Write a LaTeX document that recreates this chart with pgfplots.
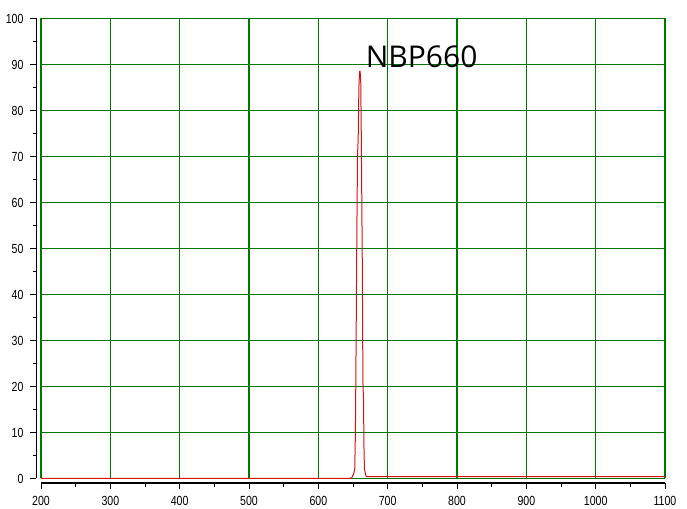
\documentclass[border=0pt]{standalone}
\usepackage{fontspec}
\setmainfont{Liberation Sans}
\newfontfamily\tickfont[FakeStretch=0.8]{Liberation Sans}
\newfontfamily\labelfont{Open Sans}
\usepackage{pgfplots}
\pgfplotsset{compat=1.18}
\definecolor{gridgreen}{RGB}{0,120,0}
\definecolor{curvered}{RGB}{210,20,20}

\begin{document}
\begin{tikzpicture}
\useasboundingbox (-20.5pt,-15.25pt) rectangle (323pt,239.25pt);
\begin{axis}[
  scale only axis, width=312pt, height=230pt,
  xmin=200, xmax=1100, ymin=0, ymax=100,
  axis lines=left, axis line style={-, black, line width=0.7pt},
  axis x line shift=2.25pt, axis y line shift=2.25pt,
  xtick={200,300,...,1100}, ytick={0,10,...,100},
  minor x tick num=1, minor y tick num=1,
  tick align=outside, major tick length=3pt, minor tick length=1.8pt,
  tick style={black, line width=0.4pt},
  grid=major, major grid style={gridgreen, line width=0.6pt},
  ticklabel style={font=\tickfont\fontsize{6.6}{7}\selectfont},
  /pgf/number format/assume math mode=true,
  /pgf/number format/set thousands separator={},
  clip=false,
]
% transmission curve of the NBP660 filter
\addplot[curvered, line width=0.5pt] coordinates {
  (200,0) (640,0) (648,0.1) (651,1) (652.5,2) (653.5,10) (654.5,30)
  (655.5,52) (656.5,70) (657.5,74) (658.5,85) (659.5,88.5) (660.3,88.5)
  (661.2,86) (662,74) (663.5,45) (664.3,21) (665.2,17) (665.8,7)
  (666.5,2) (669,0.4) (700,0.4) (1100,0.4)
};
\node[anchor=base west, inner sep=0pt, font=\labelfont\fontsize{15}{18}\selectfont]
  at (axis cs:668,89.4) {NBP660};
\end{axis}
\end{tikzpicture}
\end{document}
